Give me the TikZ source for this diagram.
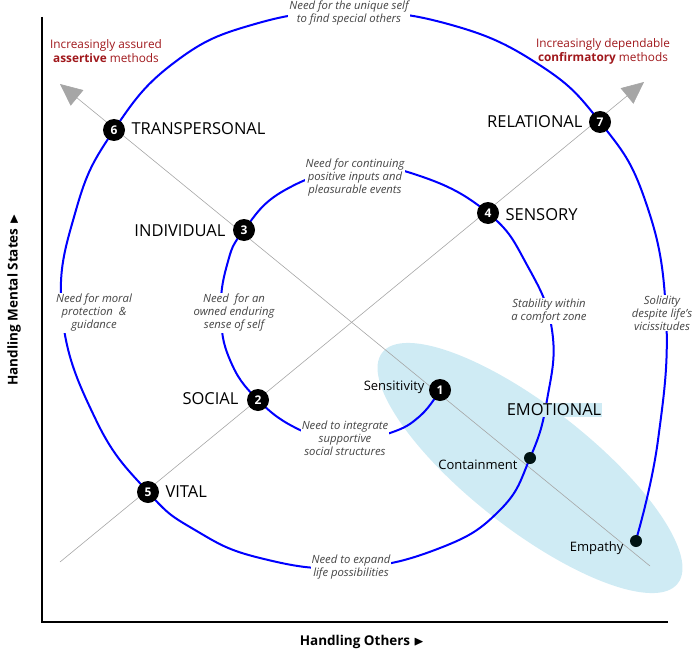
\documentclass[tikz,border=0pt]{standalone}
\usepackage{amssymb}
\usepackage{fontspec}
\setmainfont{Open Sans}
\usetikzlibrary{shapes.geometric,arrows.meta}
\definecolor{dred}{HTML}{A0181C}
\definecolor{lblue}{HTML}{CFEBF4}
\definecolor{gtxt}{HTML}{444444}
\begin{document}
\begin{tikzpicture}[x=1pt,y=-1pt,
  num/.style={circle,fill=black,text=white,font=\bfseries\fontsize{12}{12}\selectfont,inner sep=0pt,minimum size=22pt},
  dot/.style={circle,fill=black!85!teal,inner sep=0pt,minimum size=12pt},
  stage/.style={font=\fontsize{16.5}{16.5}\selectfont},
  need/.style={font=\itshape\fontsize{11.3}{13}\selectfont,text=gtxt,align=center,fill=white,inner sep=1pt},
  meth/.style={font=\fontsize{11.8}{14}\selectfont,text=dred,align=center},
  diag/.style={gray!70,line width=0.6pt},
  tip/.style={-{Triangle[length=22pt,width=20pt]}}]
\useasboundingbox (0,0) rectangle (700,655);
% ellipse
\node[ellipse,fill=lblue,minimum width=375pt,minimum height=122pt,rotate=-38] (ell) at (530,468) {};
% diagonals
\coordinate (d1s) at (650,566); \coordinate (d1e) at (60,84);
\coordinate (d2s) at (60,562); \coordinate (d2e) at (644,82);
\draw[diag,tip] (d1s) -- (d1e);
\draw[diag,tip] (d2s) -- (d2e);
% axes
\coordinate (ot) at (42,17); \coordinate (o) at (42,622); \coordinate (xr) at (668,622);
\draw[line width=2.5pt] (ot) -- (o) -- (xr);
\node[font=\bfseries\fontsize{13.5}{13.5}\selectfont] (xl) at (362,642) {Handling Others $\blacktriangleright$};
\node[font=\bfseries\fontsize{13.5}{13.5}\selectfont,rotate=90] (yl) at (14,300) {Handling Mental States $\blacktriangleright$};
% spiral
\draw[blue,line width=2pt] plot[smooth,tension=0.75] coordinates{
 (440,390) (420,416) (390,433) (345,442) (300,430) (258,400)
 (230,360) (221,313) (227,265) (244,230)
 (285,190) (355,168) (420,176) (488,213)
 (527,265) (552,330) (547,400) (530,458)
 (500,510) (440,548) (350,568) (260,558) (195,530) (148,492)
 (96,420) (62,313) (76,210) (114,130)
 (175,62) (255,24) (349,12) (448,24) (538,64) (600,122)
 (645,200) (666,313) (658,440) (636,540)};
% need labels
\node[need] (n12) at (345,438) {Need to integrate\\supportive\\social structures};
\node[need] (n23) at (234,313) {Need \ for an\\owned enduring\\sense of self};
\node[need] (n34) at (355,178) {Need for continuing\\positive inputs and\\pleasurable events};
\node[need] (n4c) at (549,311) {Stability within\\a comfort zone};
\node[need] (nc5) at (351,567) {Need to expand\\life possibilities};
\node[need] (n56) at (94,313) {Need for moral\\protection \ \&\\guidance};
\node[need] (n67) at (349,13) {Need for the unique self\\to find special others};
\node[need] (n7e) at (662,313) {Solidity\\despite life's\\vicissitudes};
\node[stage,fill=lblue,inner sep=1pt] (emo) at (554,410) {EMOTIONAL};
% methods
\node[meth] (m1) at (106,51) {Increasingly assured\\\textbf{assertive} methods};
\node[meth] (m2) at (603,51) {Increasingly dependable\\\textbf{confirmatory} methods};
% stage nodes
\node[num] (s1) at (440,390) {1};
\node[num] (s2) at (258,400) {2};
\node[num] (s3) at (244,230) {3};
\node[num] (s4) at (488,213) {4};
\node[num] (s5) at (148,492) {5};
\node[num] (s6) at (114,130) {6};
\node[num] (s7) at (600,122) {7};
\node[dot] (cn) at (530,458) {};
\node[dot] (em) at (636,541) {};
\node[font=\fontsize{13}{13}\selectfont,anchor=east] (l1) at (428,387) {Sensitivity};
\node[font=\fontsize{13}{13}\selectfont,anchor=east] (lc) at (521,465) {Containment};
\node[font=\fontsize{13}{13}\selectfont,anchor=east] (le) at (627,548) {Empathy};
\node[stage,anchor=east] (l2) at (242,399) {SOCIAL};
\node[stage,anchor=east] (l3) at (229,231) {INDIVIDUAL};
\node[stage,anchor=west] (l4) at (502,215) {SENSORY};
\node[stage,anchor=west] (l5) at (162,492) {VITAL};
\node[stage,anchor=west] (l6) at (128,129) {TRANSPERSONAL};
\node[stage,anchor=east] (l7) at (586,122) {RELATIONAL};
\end{tikzpicture}
\end{document}
